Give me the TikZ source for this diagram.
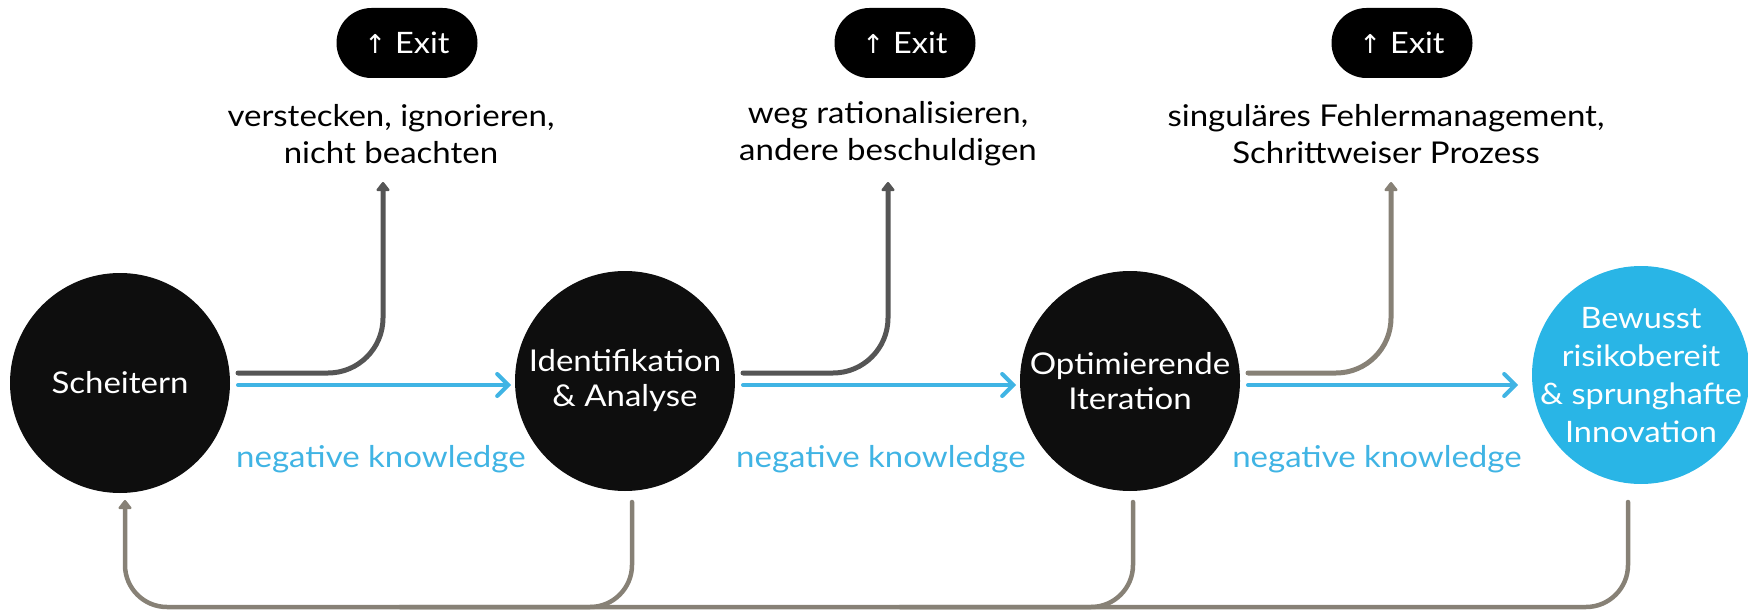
\documentclass[tikz,border=0pt]{standalone}
\usepackage{fontspec}
\setmainfont{Lato}[FakeStretch=1.1]
\newfontfamily\symfont{DejaVu Sans}
\usetikzlibrary{arrows.meta}
\definecolor{ink}{HTML}{0E0E0E}
\definecolor{sky}{HTML}{29B5E6}
\definecolor{skyline}{HTML}{40B4E4}
\definecolor{darkgrey}{HTML}{555555}
\definecolor{taupe}{HTML}{878176}
\begin{document}
\begin{tikzpicture}[x=1pt,y=-1pt,
  stage/.style={circle, fill=ink, minimum size=220pt, inner sep=0pt, text=white, align=center, font=\fontsize{30}{35}\selectfont},
  exitpill/.style={fill=black, rounded corners=35pt, minimum width=141pt, minimum height=70pt, inner sep=0pt, text=white, font=\fontsize{29.5}{35}\selectfont},
  note/.style={align=center, text=black, font=\fontsize{30}{37}\selectfont},
  knowledge/.style={text=skyline, font=\fontsize{30}{34}\selectfont},
  flow/.style={skyline, line width=4pt, line cap=round, -{Straight Barb[length=11pt,width=22pt,line cap=round]}},
  exitline/.style={line width=5pt, line cap=round, rounded corners=55pt, -{Triangle[length=10pt,width=15pt,round]}},
  feedback/.style={taupe, line width=4.5pt, line cap=round, rounded corners=42pt}
]
\useasboundingbox (0,0) rectangle (1748,610);

% stages
\node[stage] (s1) at (120,383) {Scheitern};
\node[stage] (s2) at (625,381) {Identifikation\\\& Analyse};
\node[stage] (s3) at (1130,381) {Optimierende\\Iteration};
\node[stage, fill=sky, minimum size=218pt, inner sep=-16pt, font=\fontsize{29.5}{38}\selectfont] (s4) at (1641,375) {Bewusst\\risikobereit\\\& sprunghafte\\Innovation};

% exit pills
\node[exitpill] (e1) at (407,43) {{\symfont\fontsize{26}{30}\selectfont ↑}\hspace{9pt}Exit};
\node[exitpill] (e2) at (905,43) {{\symfont\fontsize{26}{30}\selectfont ↑}\hspace{9pt}Exit};
\node[exitpill] (e3) at (1402,43) {{\symfont\fontsize{26}{30}\selectfont ↑}\hspace{9pt}Exit};

% exit notes
\node[note] (n1) at (391,134) {verstecken, ignorieren,\\nicht beachten};
\node[note] (n2) at (888,134) {weg rationalisieren,\\andere beschuldigen};
\node[note] (n3) at (1386,134) {singuläres Fehlermanagement,\\Schrittweiser Prozess};

% connector end points
\coordinate (g1) at (238,373);
\coordinate (g2) at (743,373);
\coordinate (g3) at (1248,373);
\coordinate (t1) at (383,182);
\coordinate (t2) at (888,182);
\coordinate (t3) at (1391,182);
\coordinate (f1a) at (238,385);
\coordinate (f1b) at (511,385);
\coordinate (f2a) at (743,385);
\coordinate (f2b) at (1016,385);
\coordinate (f3a) at (1248,385);
\coordinate (f3b) at (1518,385);
\coordinate (d2) at (632,502);
\coordinate (d3) at (1133,502);
\coordinate (d4) at (1628,502);
\coordinate (b0) at (125,607);
\coordinate (b2) at (400,607);
\coordinate (b3) at (900,607);
\coordinate (u1) at (125,500);

% exit lines
\draw[exitline, darkgrey] (g1) -| (t1);
\draw[exitline, darkgrey] (g2) -| (t2);
\draw[exitline, taupe] (g3) -| (t3);

% forward flows
\draw[flow] (f1a) -- (f1b);
\draw[flow] (f2a) -- (f2b);
\draw[flow] (f3a) -- (f3b);

% labels
\node[knowledge] (k1) at (381,459) {negative knowledge};
\node[knowledge] (k2) at (881,459) {negative knowledge};
\node[knowledge] (k3) at (1377,459) {negative knowledge};

% feedback loop
\draw[feedback, -{Triangle[length=10pt,width=15pt,round]}] (d4) |- (b0) -- (u1);
\draw[feedback] (d2) |- (b2);
\draw[feedback] (d3) |- (b3);
\end{tikzpicture}
\end{document}
